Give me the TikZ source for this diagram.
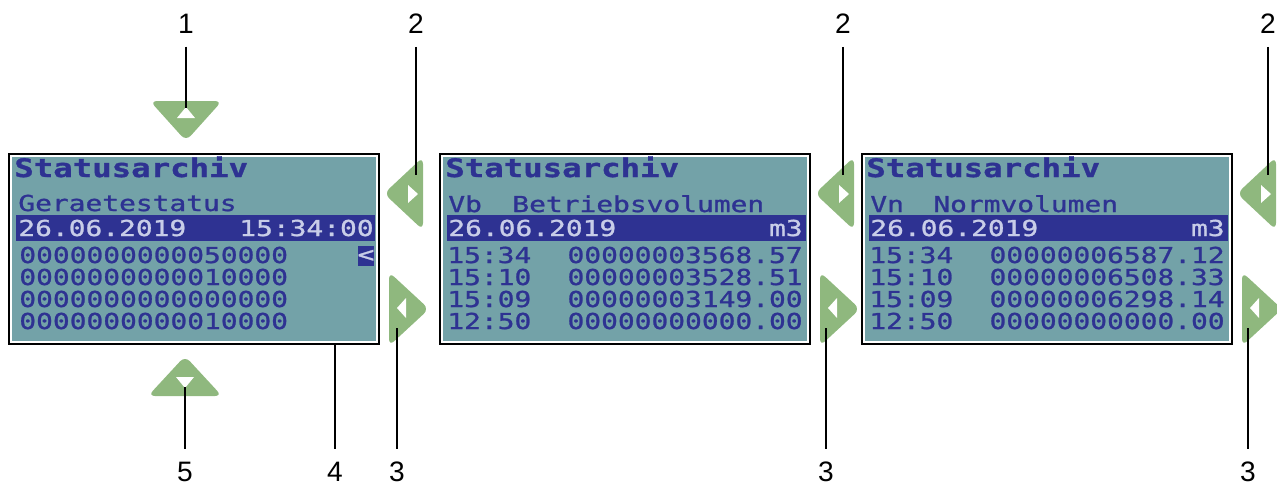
\documentclass[tikz,border=0pt]{standalone}
\usepackage{fontspec}
\usetikzlibrary{positioning}
\newfontfamily\lcdfont[FakeStretch=1.27, FakeBold=1.2]{DejaVu Sans Mono}
\newfontfamily\callfont{Liberation Sans}
\definecolor{lcdteal}{RGB}{115,162,168}
\definecolor{lcdink}{RGB}{46,50,146}
\definecolor{lcdlite}{RGB}{200,205,232}
\definecolor{keygreen}{RGB}{143,184,126}

\begin{document}
\begin{tikzpicture}[
    x=0.02cm, y=-0.02cm,
    screen/.style={rectangle, draw=black, line width=0.9pt, fill=white,
        minimum width=7.4cm, minimum height=3.8cm, inner sep=0pt},
    lcdtitle/.style={anchor=base west, inner sep=0pt, text=lcdink,
        font=\lcdfont\bfseries\fontsize{14.5}{14.5}\selectfont},
    lcdtext/.style={anchor=base west, inner sep=0pt, text=lcdink,
        font=\lcdfont\fontsize{12.5}{12.5}\selectfont},
    lcdright/.style={lcdtext, anchor=base east},
    bartext/.style={lcdtext, text=lcdlite},
    barright/.style={lcdright, text=lcdlite},
    keypad/.style={fill=keygreen, rounded corners=4pt},
    keymark/.style={fill=white},
    callout/.style={font=\callfont\fontsize{16}{16}\selectfont, inner sep=7.5pt},
    leader/.style={draw=black, line width=0.9pt}
]
    \useasboundingbox (0,0) rectangle (1277,488);

    % Screens
    \node[screen] (status) at (194,249) {};
    \node[screen] (vb)     at (625,249) {};
    \node[screen] (vn)     at (1047,249) {};
    \foreach \s in {status, vb, vn}
        \fill[lcdteal] ([shift={(3.5,-3.5)}]\s.south west) rectangle ([shift={(-3.5,3.5)}]\s.north east);

    % Highlighted date bars
    \fill[lcdink] (16,215) rectangle (374.5,241);
    \fill[lcdink] (447,215) rectangle (805.5,241);
    \fill[lcdink] (869,215) rectangle (1227.5,241);

    % Screen 1
    \node[lcdtitle] (t1) at (14,177) {Statusarchiv};
    \node[lcdtext]  (h1) at (18,211) {Geraetestatus};
    \node[bartext]  (d1) at (18,236) {26.06.2019};
    \node[barright] (c1) at (374,236) {15:34:00};
    \node[lcdtext]  (r11) at (19,263) {0000000000050000};
    \node[lcdtext]  (r12) at (19,285) {0000000000010000};
    \node[lcdtext]  (r13) at (19,307) {0000000000000000};
    \node[lcdtext]  (r14) at (19,329) {0000000000010000};
    \node[fill=lcdink, text=lcdlite, inner sep=0pt, minimum width=0.32cm, minimum height=0.4cm,
        font=\lcdfont\fontsize{12.5}{12.5}\selectfont] (cursor) at (366,256) {<};

    % Screen 2
    \node[lcdtitle] (t2) at (445,177) {Statusarchiv};
    \node[lcdtext]  (h2a) at (448,212) {Vb};
    \node[lcdtext]  (h2b) at (512,212) {Betriebsvolumen};
    \node[bartext]  (d2) at (448,236) {26.06.2019};
    \node[barright] (u2) at (803,236) {m3};
    \node[lcdtext]  (k21) at (447,263) {15:34};
    \node[lcdtext]  (k22) at (447,285) {15:10};
    \node[lcdtext]  (k23) at (447,307) {15:09};
    \node[lcdtext]  (k24) at (447,329) {12:50};
    \node[lcdright] (v21) at (803,263) {00000003568.57};
    \node[lcdright] (v22) at (803,285) {00000003528.51};
    \node[lcdright] (v23) at (803,307) {00000003149.00};
    \node[lcdright] (v24) at (803,329) {00000000000.00};

    % Screen 3
    \node[lcdtitle] (t3) at (866,177) {Statusarchiv};
    \node[lcdtext]  (h3a) at (870,212) {Vn};
    \node[lcdtext]  (h3b) at (933,212) {Normvolumen};
    \node[bartext]  (d3) at (870,236) {26.06.2019};
    \node[barright] (u3) at (1225,236) {m3};
    \node[lcdtext]  (k31) at (869,263) {15:34};
    \node[lcdtext]  (k32) at (869,285) {15:10};
    \node[lcdtext]  (k33) at (869,307) {15:09};
    \node[lcdtext]  (k34) at (869,329) {12:50};
    \node[lcdright] (v31) at (1225,263) {00000006587.12};
    \node[lcdright] (v32) at (1225,285) {00000006508.33};
    \node[lcdright] (v33) at (1225,307) {00000006298.14};
    \node[lcdright] (v34) at (1225,329) {00000000000.00};

    % Up / down keys
    \fill[keypad] (150,101) -- (222,101) -- (186,141) -- cycle;
    \fill[keymark] (177,118) -- (195,118) -- (186,107) -- cycle;
    \coordinate (upkey) at (186,108);
    \fill[keypad] (148,396) -- (222,396) -- (185,356) -- cycle;
    \fill[keymark] (176,377) -- (194,377) -- (185,388) -- cycle;
    \coordinate (downkey) at (185,387);

    \node[callout] (one)  at (186,23.5) {1};
    \node[callout] (five) at (185,472) {5};
    \node[callout] (four) at (335,472) {4};
    \draw[leader] (one) -- (upkey);
    \draw[leader] (five) -- (downkey);
    \draw[leader] (four) -- (four |- status.south);

    % Next / back keys beside each screen
    \foreach \r/\up/\dn/\s in {379/416/397/a, 810/843/826/b, 1232/1268/1248/c} {
        \fill[keypad] ({\r+5},193.5) -- ({\r+44},157) -- ({\r+44},230) -- cycle;
        \fill[keymark] ({\r+29},185) -- ({\r+39},194) -- ({\r+29},203) -- cycle;
        \coordinate (next\s) at (\up,175);
        \fill[keypad] ({\r+50},309) -- ({\r+10},272) -- ({\r+10},346) -- cycle;
        \fill[keymark] ({\r+27},298) -- ({\r+18},308) -- ({\r+27},318) -- cycle;
        \coordinate (back\s) at (\dn,328);
        \node[callout] (two\s)   at (\up,23.5) {2};
        \node[callout] (three\s) at (\dn,472) {3};
        \draw[leader] (two\s) -- (next\s);
        \draw[leader] (three\s) -- (back\s);
    }
\end{tikzpicture}
\end{document}
